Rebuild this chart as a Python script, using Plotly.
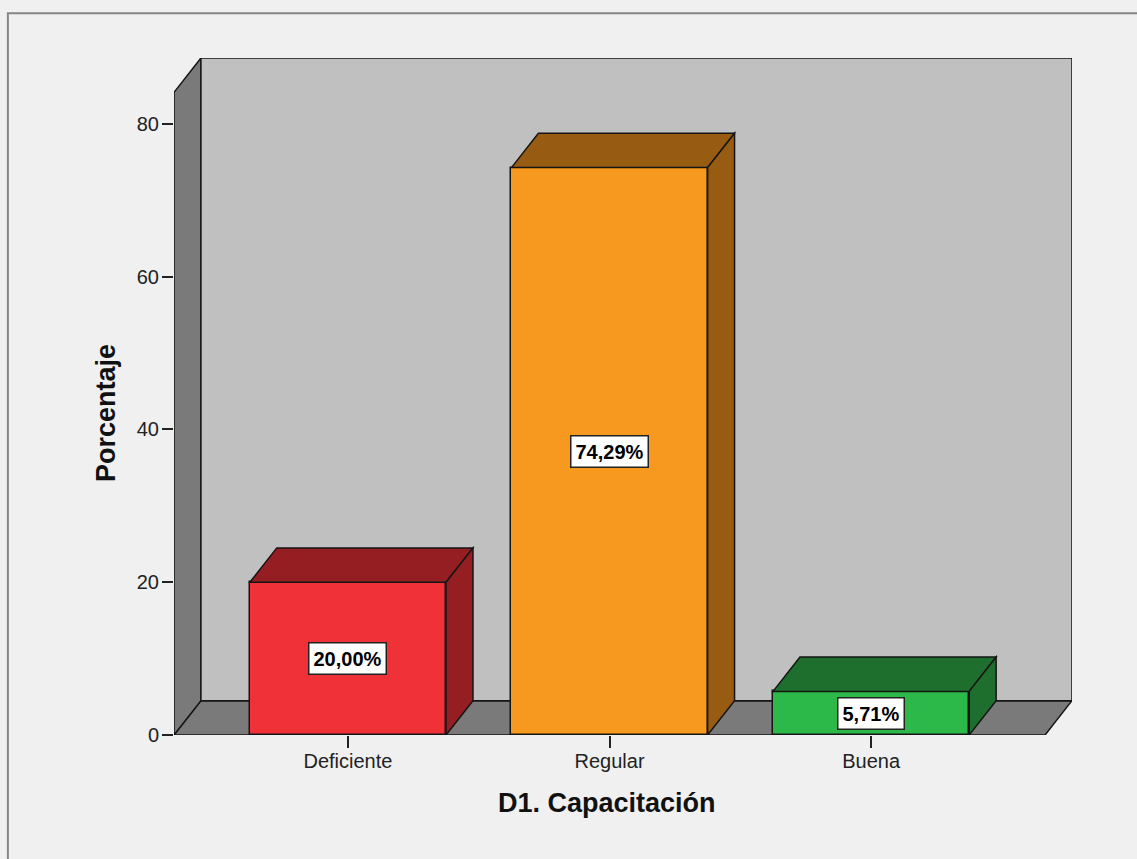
import plotly.graph_objects as go

# Data
categorias = ["Deficiente", "Regular", "Buena"]
porcentajes = [20.00, 74.29, 5.71]
etiquetas = ["20,00%", "74,29%", "5,71%"]
y_ticks = [0, 20, 40, 60, 80]

# Styling
color_frente = ["#f03138", "#f8991f", "#2db84a"]
color_oscuro = ["#951e23", "#985b12", "#1e6e2e"]
FONT = "Liberation Sans, Arial, sans-serif"
EDGE = "#151515"

# Pseudo-3D geometry in data units
ancho = 0.75          # bar width
dx, dy = 0.103, 4.5   # depth offset
x_lo, x_hi = -0.665, 2.665
y_top = 88.64

x = list(range(len(categorias)))

fig = go.Figure()
fig.add_trace(go.Bar(
    x=x, y=porcentajes, width=ancho,
    marker=dict(color=color_frente, line=dict(color=EDGE, width=1.5)),
    hoverinfo="skip", showlegend=False,
))

shapes = []
# floor
shapes.append(dict(type="path", layer="below",
                   path=f"M {x_lo},0 L {x_hi},0 L {x_hi+dx},{dy} L {x_lo+dx},{dy} Z",
                   fillcolor="#7a7a7a", line=dict(color=EDGE, width=1.5)))
# left wall
shapes.append(dict(type="path", layer="below",
                   path=f"M {x_lo},0 L {x_lo+dx},{dy} L {x_lo+dx},{y_top} L {x_lo},{y_top-dy} Z",
                   fillcolor="#7a7a7a", line=dict(color=EDGE, width=1.5)))
# back wall
shapes.append(dict(type="rect", layer="below",
                   x0=x_lo+dx, x1=x_hi+dx, y0=dy, y1=y_top,
                   fillcolor="#c0c0c0", line=dict(color=EDGE, width=1.5)))

# top and side faces of each bar
for xi, v, c in zip(x, porcentajes, color_oscuro):
    x0, x1 = xi - ancho / 2, xi + ancho / 2
    shapes.append(dict(type="path", layer="above",
                       path=f"M {x0},{v} L {x0+dx},{v+dy} L {x1+dx},{v+dy} L {x1},{v} Z",
                       fillcolor=c, line=dict(color=EDGE, width=1.5)))
    shapes.append(dict(type="path", layer="above",
                       path=f"M {x1},0 L {x1+dx},{dy} L {x1+dx},{v+dy} L {x1},{v} Z",
                       fillcolor=c, line=dict(color=EDGE, width=1.5)))

# outer frame
shapes.append(dict(type="rect", xref="paper", yref="paper", layer="below",
                   x0=-0.185, x1=1.3, y0=-0.5, y1=1.066,
                   fillcolor="rgba(0,0,0,0)", line=dict(color="#858585", width=2)))

annotations = []
for xi, v, t in zip(x, porcentajes, etiquetas):
    annotations.append(dict(x=xi, y=v / 2, xref="x", yref="y", text=f"<b>{t}</b>",
                            showarrow=False, bgcolor="white", bordercolor="#222",
                            borderwidth=1.5, borderpad=4,
                            font=dict(family=FONT, size=20, color="black")))

annotations.append(dict(x=(607 - 174) / 898, y=(735 - 803) / 677, xref="paper", yref="paper",
                        text="<b>D1. Capacitación</b>", showarrow=False,
                        xanchor="center", yanchor="middle",
                        font=dict(family=FONT, size=27, color="#111")))
annotations.append(dict(x=(106 - 174) / 898, y=(735 - 413) / 677, xref="paper", yref="paper",
                        text="<b>Porcentaje</b>", showarrow=False, textangle=-90,
                        xanchor="center", yanchor="middle",
                        font=dict(family=FONT, size=27, color="#111")))

fig.update_layout(
    width=1137, height=859,
    margin=dict(l=174, r=1137 - 1072, t=58, b=859 - 735),
    paper_bgcolor="#f0f0f0", plot_bgcolor="#f0f0f0",
    shapes=shapes, annotations=annotations,
    bargap=0, showlegend=False,
    xaxis=dict(range=[x_lo, x_hi + dx], tickvals=x, ticktext=categorias,
               ticks="outside", ticklen=12, tickwidth=2, tickcolor="#222",
               ticklabelstandoff=-4,
               showgrid=False, zeroline=False, showline=False, fixedrange=True,
               tickfont=dict(family=FONT, size=20, color="#222")),
    yaxis=dict(range=[0, y_top], tickvals=y_ticks,
               ticks="outside", ticklen=11, tickwidth=2, tickcolor="#222",
               ticklabelstandoff=-1,
               showgrid=False, zeroline=False, showline=False, fixedrange=True,
               tickfont=dict(family=FONT, size=20, color="#222")),
)

fig.write_html("out.html")
